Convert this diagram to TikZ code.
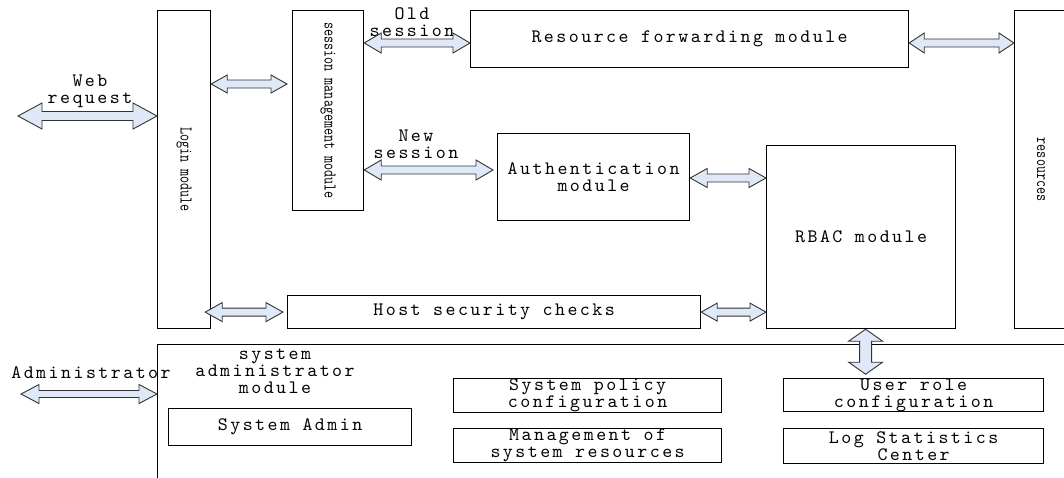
\documentclass[tikz,border=0pt]{standalone}
\usepackage{fontspec}
\newfontfamily\spacedmono[LetterSpace=13]{lmmono10-regular.otf}
\newcommand\lblfont{\spacedmono\fontsize{19}{17}\selectfont}
\newcommand\vertfont{\ttfamily\fontsize{18}{18}\selectfont}
\usetikzlibrary{calc}
\definecolor{arrowfill}{RGB}{222,232,246}
\tikzset{
  box/.style={draw=black, line width=1.2pt, anchor=north west, inner sep=0pt,
    font=\lblfont, align=center},
  lbl/.style={inner sep=0pt, font=\lblfont, align=center},
  blk/.style={draw=black!80, line width=0.9pt, fill=arrowfill, line join=miter},
}
% horizontal double block arrow: start, end, shaft half-height, head half-height, head length
\newcommand\harrow[5]{%
  \draw[blk] let \p1=#1, \p2=#2 in
    (\x1,\y1) -- (\x1+#5pt,\y1+#4pt) -- (\x1+#5pt,\y1+#3pt) -- (\x2-#5pt,\y1+#3pt)
    -- (\x2-#5pt,\y1+#4pt) -- (\x2,\y1) -- (\x2-#5pt,\y1-#4pt) -- (\x2-#5pt,\y1-#3pt)
    -- (\x1+#5pt,\y1-#3pt) -- (\x1+#5pt,\y1-#4pt) -- cycle;}
% vertical double block arrow: top point, bottom point, shaft half-width, head half-width, head length
\newcommand\varrow[5]{%
  \draw[blk] let \p1=#1, \p2=#2 in
    (\x1,\y1) -- (\x1+#4pt,\y1-#5pt) -- (\x1+#3pt,\y1-#5pt) -- (\x1+#3pt,\y2+#5pt)
    -- (\x1+#4pt,\y2+#5pt) -- (\x1,\y2) -- (\x1-#4pt,\y2+#5pt) -- (\x1-#3pt,\y2+#5pt)
    -- (\x1-#3pt,\y1-#5pt) -- (\x1-#4pt,\y1-#5pt) -- cycle;}
\newcommand\vtext[1]{\rotatebox{-90}{\vertfont\scalebox{0.76}[1]{#1}}}

\begin{document}
\begin{tikzpicture}[x=1pt,y=-1pt]
\useasboundingbox (0,0) rectangle (1064,477);
\begin{scope}
\clip (0,0) rectangle (1064,477);

% main modules
\node[box, minimum width=53, minimum height=318] (login) at (157,10) {\vtext{Login module}};
\node[box, minimum width=71, minimum height=200] (sess) at (292,10) {\vtext{session management module}};
\node[box, minimum width=438, minimum height=57] (fwd) at (470,10) {Resource forwarding module};
\node[box, minimum width=53, minimum height=318] (resrc) at (1014,10) {\vtext{resources}};
\node[box, minimum width=192, minimum height=87] (auth) at (497,133) {Authentication\\module};
\node[box, minimum width=189, minimum height=183] (rbac) at (766,145) {RBAC module};
\node[box, minimum width=413, minimum height=33] (host) at (287,295) {Host security checks};

% administrator panel
\node[box, minimum width=920, minimum height=150] (panel) at (157,344) {};
\node[lbl] (paneltitle) at (275,371) {system\\administrator\\module};
\node[box, minimum width=243, minimum height=37] (sysadm) at (168,408) {System Admin};
\node[box, minimum width=268, minimum height=34] (policy) at (453,378) {System policy\\configuration};
\node[box, minimum width=268, minimum height=34] (mgmt) at (453,428) {Management of\\system resources};
\node[box, minimum width=260, minimum height=33] (role) at (783,378) {User role\\configuration};
\node[box, minimum width=260, minimum height=35] (logc) at (783,428) {Log Statistics\\Center};

% arrow labels
\node[lbl] (weblbl) at (90,91) {Web\\request};
\node[lbl] (oldlbl) at (412,22) {Old\\session};
\node[lbl] (newlbl) at (416,144) {New\\session};
\node[lbl] (admlbl) at (91,373) {Administrator};

% connectors
\coordinate (webend) at (18,116);
\harrow{(webend)}{(webend -| login.west)}{4.5}{13}{24}
\harrow{([yshift=-74pt]login.north east)}{([xshift=-5pt,yshift=-74pt]sess.north west)}{4}{9}{16}
\harrow{([yshift=-33pt]sess.north east)}{([yshift=-33pt]fwd.north west)}{4}{10}{17}
\coordinate (newend) at ([xshift=-4pt,yshift=-37pt]auth.north west);
\harrow{(sess.east |- newend)}{(newend)}{4}{10}{17}
\harrow{([yshift=-33pt]fwd.north east)}{([yshift=-33pt]resrc.north west)}{4}{10}{15}
\coordinate (arstart) at ([yshift=-45pt]auth.north east);
\harrow{(arstart)}{(arstart -| rbac.west)}{4}{9.5}{17}
\coordinate (lhstart) at ($(login.east |- host.west)+(-6,0)$);
\harrow{(lhstart)}{([xshift=-4pt]host.west)}{4}{9.5}{17}
\harrow{(host.east)}{(host.east -| rbac.west)}{4}{9}{16}
\coordinate (admend) at (21,394);
\harrow{(admend)}{(admend -| panel.west)}{3.5}{9.5}{18}
\varrow{([xshift=4.5pt]rbac.south)}{([xshift=4.5pt,yshift=-45pt]rbac.south)}{6}{17}{12}
\end{scope}
\end{tikzpicture}
\end{document}
